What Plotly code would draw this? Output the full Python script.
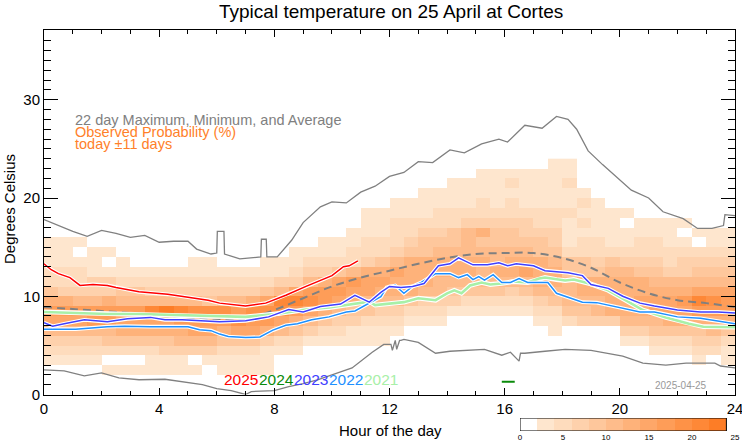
import plotly.graph_objects as go

# ---------------- data ----------------
HOUR_EDGES = [i * 0.5 for i in range(49)]          # half-hour bins
TEMP_EDGES = list(range(25))                       # 1 degree bins
LEVEL_EDGES = list(range(0, 26, 2))                # probability classes (%)

# observed probability class per half-hour column, rows from 0 C upward
# (0 = <2 %, 1 = 2-4 %, ... b = 22-24 %)
prob_levels = [
    "000123578642211100000000", "000123578632211100000000",
    "000123578532210100000000", "000123588533111000000000",
    "001024588633101000000000", "001024678542110000000000",
    "001024678542100000000000", "00112467a532100000000000",
    "00113467b532100000000000", "00113568a532100000000000",
    "001035789532110000000000", "000135789432110000000000",
    "001124689532100000000000", "001124798532100000000000",
    "001124789632100000000000", "001113689742110000000000",
    "000012579a53110000000000", "000012468a73211000000000",
    "000001357985321000000000", "000001246886321100000000",
    "000001235787421100000000", "000001134678522110000000",
    "000001124577632211100000", "000001123567642211100000",
    "000000123566753222110000", "000000012466664322110000",
    "000000012356664432111000", "000000012355665432211000",
    "000000001345665442211100", "000000001245665553211100",
    "000000001245565463221110", "000000001245655443211110",
    "000000001235665443221210", "000000001245765433211110",
    "000000012356664432211110", "000000112456654332211111",
    "000000024555442111211211", "000000034566442212121000",
    "000000035566432211110000", "000000036666542111100000",
    "000001356666532110100000", "000001356766432211000000",
    "000012457765432211000000", "000012467765322111000000",
    "000012467865332101000000", "000123468a75432010000000",
    "000023568975432110000000", "000112468875432110000000",
]

mean_hours = list(range(25))
mean_temp = [8.9, 8.7, 8.5, 8.3, 8.0, 7.8, 7.6, 7.7, 8.6, 9.8, 11.0, 11.9, 12.6,
             13.3, 13.9, 14.3, 14.4, 14.4, 13.9, 12.9, 11.4, 10.3, 9.6, 9.3, 8.9]

max_hours = [0.0, 0.5, 1.0, 1.5, 2.0, 2.5, 3.0, 3.5, 4.0, 4.5, 5.0, 5.3, 5.8, 6.0,
             6.02, 6.25, 6.27, 6.8, 7.2, 7.53, 7.55, 7.72, 7.74, 8.1, 8.6, 9.0,
             9.6, 10.0, 10.5, 11.0, 11.5, 12.0, 12.5, 13.0, 13.5, 14.1, 14.6,
             15.2, 15.8, 16.1, 16.7, 17.3, 17.8, 18.2, 18.5, 18.9, 19.4, 20.0,
             20.4, 21.0, 21.5, 22.2, 22.7, 23.2, 23.6, 23.65, 24.0]
max_temp = [17.8, 17.2, 16.6, 16.1, 16.7, 16.4, 16.0, 16.2, 15.5, 15.6, 15.6,
            14.8, 14.3, 14.4, 16.6, 16.6, 14.3, 13.8, 13.9, 14.0, 15.8, 15.8,
            14.0, 14.0, 15.7, 17.5, 19.1, 19.6, 19.5, 20.6, 21.2, 22.2, 22.6,
            23.7, 23.6, 24.9, 24.6, 25.5, 26.0, 25.7, 27.4, 27.1, 28.3, 28.0,
            27.0, 24.8, 23.4, 21.8, 20.8, 20.0, 18.6, 17.9, 16.9, 16.9, 17.2,
            18.3, 18.2]

min_hours = [0, 0.7, 1.4, 2.0, 2.6, 3.3, 4.2, 5.0, 5.5, 6.0, 6.5, 7.0, 7.2, 8.0,
             8.5, 9.0, 9.5, 10.0, 10.7, 11.4, 11.8, 12.05, 12.1, 12.2, 12.25,
             12.35, 12.4, 12.5, 13.0, 13.6, 14.1, 15.3, 15.9, 16.2, 16.5, 16.55,
             16.7, 17.4, 18.1, 19.0, 20.1, 20.8, 21.6, 22.3, 23.3, 23.5, 24.0]
min_temp = [2.5, 2.4, 1.9, 2.2, 1.7, 1.5, 1.55, 1.2, 1.0, 0.6, 0.4, 0.0, 0.3,
            0.4, 0.8, 1.1, 1.5, 2.0, 2.7, 4.3, 5.1, 5.1, 4.5, 5.5, 4.6, 5.5, 5.5,
            5.6, 5.3, 4.2, 4.4, 4.6, 4.0, 4.3, 3.4, 4.2, 4.2, 4.4, 4.6, 4.5,
            3.9, 3.2, 3.0, 3.2, 3.2, 2.9, 2.7]

hours_2025 = [0, 0.25, 0.5, 0.9, 1.25, 1.7, 2.2, 2.5, 3.3, 4.3, 5.0, 5.7, 6.1,
              7.0, 7.7, 8.4, 9.1, 9.6, 10.0, 10.4, 10.6, 10.9]
temp_2025 = [13.3, 12.7, 12.3, 11.9, 11.1, 11.2, 11.1, 10.9, 10.45, 10.2, 9.9,
             9.6, 9.3, 9.0, 9.3, 10.1, 11.0, 11.6, 12.1, 13.0, 13.1, 13.6]

hours_2024 = [15.9, 16.35]
temp_2024 = [1.3, 1.3]

hours_2023 = [0, 0.3, 0.7, 1.4, 2.2, 2.9, 3.7, 4.2, 4.8, 5.5, 6.1, 7.0, 7.8, 8.5,
              9.0, 9.6, 10.3, 10.8, 11.3, 11.7, 12.0, 12.4, 12.8, 13.2, 13.7,
              14.1, 14.4, 14.9, 15.4, 15.8, 16.1, 16.4, 17.0, 17.4, 18.2, 18.7,
              19.0, 19.6, 20.1, 20.7, 21.2, 22.0, 22.8, 23.4, 24.0]
temp_2023 = [7.3, 6.95, 7.2, 7.6, 7.4, 7.7, 7.85, 7.6, 7.6, 7.5, 7.4, 7.5, 7.9,
             8.65, 8.4, 8.95, 9.2, 10.1, 9.4, 10.4, 11.0, 10.9, 11.0, 11.3, 13.1,
             13.3, 13.9, 13.2, 13.2, 13.4, 13.1, 13.3, 13.1, 12.6, 12.4, 12.1,
             11.2, 10.8, 10.0, 9.3, 9.0, 8.6, 8.4, 8.4, 8.3]

hours_2022 = [0, 1.1, 2.2, 2.8, 3.7, 5.0, 5.4, 5.8, 6.1, 6.4, 7.0, 7.5, 7.95,
              8.4, 8.8, 9.3, 9.9, 10.5, 10.8, 11.3, 11.7, 11.9, 12.2, 12.5, 12.8,
              13.1, 13.6, 14.1, 14.4, 14.7, 14.9, 15.1, 15.3, 15.6, 15.9, 16.2,
              16.5, 16.8, 17.5, 17.8, 18.1, 18.7, 19.2, 20.1, 20.7, 21.2, 22.0,
              22.8, 24.0]
temp_2022 = [6.65, 6.65, 6.9, 6.95, 6.9, 6.9, 6.6, 6.5, 6.15, 5.9, 5.8, 5.85,
             6.55, 7.05, 7.2, 7.6, 7.9, 8.4, 8.5, 9.3, 9.95, 10.9, 11.1, 10.3,
             11.0, 11.4, 12.3, 12.3, 11.9, 12.2, 11.7, 12.0, 11.65, 12.2, 11.4,
             11.4, 11.8, 11.4, 11.4, 10.3, 10.0, 9.4, 9.35, 8.75, 8.4, 8.4, 7.9,
             7.75, 7.2]

hours_2021 = [0, 1.1, 2.2, 3.3, 4.5, 5.7, 7.0, 8.2, 9.1, 9.9, 10.7, 11.3, 11.5,
              11.9, 12.5, 13.0, 13.6, 14.0, 14.25, 14.5, 14.8, 15.2, 15.5, 15.9,
              16.3, 16.8, 17.2, 17.4, 17.8, 18.1, 18.4, 19.0, 19.6, 20.1, 20.8,
              21.6, 22.4, 22.9, 24.0]
temp_2021 = [8.4, 8.3, 8.2, 8.2, 8.1, 7.95, 7.9, 8.25, 8.65, 8.85, 9.2, 9.45,
             9.1, 9.2, 9.4, 9.8, 9.6, 10.3, 10.6, 10.3, 11.1, 11.4, 11.2, 11.3,
             11.5, 11.4, 11.8, 11.9, 11.7, 11.6, 11.7, 11.25, 10.6, 9.8, 8.6,
             7.85, 7.2, 6.9, 6.85]

year_labels = ["2025", "2024", "2023", "2022", "2021"]
colorbar_ticks = [0, 5, 10, 15, 20, 25]
x_ticks = [0, 4, 8, 12, 16, 20, 24]
y_ticks = [0, 10, 20, 30]

# ---------------- style ----------------
W, H = 742, 445
ML, MR, MT, MB = 44, 7, 30, 10
PLOT_BOTTOM = 394.5
FONT = "Liberation Sans, Arial, sans-serif"
LEVEL_COLORS = ["#ffffff", "#fee6ce", "#fedcbd", "#fed1ac", "#fec79c", "#febc8b",
                "#feb27a", "#fea769", "#fe9d58", "#fe9247", "#fe8837", "#fd7d26"]
YEAR_COLORS = ["#ff0000", "#0a8a0a", "#4040ff", "#1e90ff", "#a8f0a8"]
GRAY = "#808080"


def px(x):
    return (x - ML) / (W - ML - MR)


def py(y):
    return (H - MB - y) / (H - MT - MB)


main_bottom = py(PLOT_BOTTOM)

# stepped colorscale over 0..24 %
nlev = len(LEVEL_COLORS)
colorscale = []
for k, col in enumerate(LEVEL_COLORS):
    colorscale.append([k / nlev, col])
    colorscale.append([(k + 1) / nlev, col])

nrows = len(TEMP_EDGES) - 1
z = [[None] * (len(HOUR_EDGES) - 1) for _ in range(nrows)]
for c, s in enumerate(prob_levels):
    s = (s + "0" * nrows)[:nrows]
    for r, ch in enumerate(s):
        k = int(ch, 16)
        if k > 0:
            z[r][c] = (LEVEL_EDGES[k] + LEVEL_EDGES[k + 1]) / 2

fig = go.Figure()
fig.add_trace(go.Heatmap(x=HOUR_EDGES, y=TEMP_EDGES, z=z, zmin=0, zmax=24,
                         colorscale=colorscale, showscale=False,
                         hoverongaps=False))

fig.add_trace(go.Scatter(x=max_hours, y=max_temp, mode="lines",
                         line=dict(color=GRAY, width=1.3)))
fig.add_trace(go.Scatter(x=min_hours, y=min_temp, mode="lines",
                         line=dict(color=GRAY, width=1.3)))
fig.add_trace(go.Scatter(x=mean_hours, y=mean_temp, mode="lines",
                         line=dict(color=GRAY, width=2, dash="8px,5px",
                                   shape="spline", smoothing=1)))

year_series = [(hours_2021, temp_2021, YEAR_COLORS[4], 2.6),
               (hours_2022, temp_2022, YEAR_COLORS[3], 1.5),
               (hours_2023, temp_2023, YEAR_COLORS[2], 1.5),
               (hours_2024, temp_2024, YEAR_COLORS[1], 1.8),
               (hours_2025, temp_2025, YEAR_COLORS[0], 1.5)]
for hx, ty, colr, wd in year_series:
    fig.add_trace(go.Scatter(x=hx, y=ty, mode="lines",
                             line=dict(color="white", width=wd + 2.2)))
    fig.add_trace(go.Scatter(x=hx, y=ty, mode="lines",
                             line=dict(color=colr, width=wd)))

# colour key (inset axes)
key_vals = [(LEVEL_EDGES[k] + LEVEL_EDGES[k + 1]) / 2 for k in range(nlev)]
fig.add_trace(go.Heatmap(x=LEVEL_EDGES, y=[0, 1], z=[key_vals], zmin=0, zmax=24,
                         colorscale=colorscale, showscale=False,
                         xaxis="x2", yaxis="y2"))
fig.add_shape(type="rect", xref="x2", yref="y2", x0=0, x1=24, y0=0, y1=1,
              line=dict(color="black", width=1))

axis_common = dict(showgrid=False, zeroline=False, showline=True,
                   linecolor="black", linewidth=1, mirror="allticks",
                   ticks="inside", tickcolor="black", automargin=False,
                   ticklabeloverflow="allow",
                   tickfont=dict(family=FONT, size=15, color="black"))
fig.update_layout(
    width=W, height=H,
    margin=dict(l=ML, r=MR, t=MT, b=MB, pad=0, autoexpand=False),
    paper_bgcolor="white", plot_bgcolor="white",
    showlegend=False,
    font=dict(family=FONT, color="black"),
    xaxis=dict(range=[0, 24], domain=[0, 1], tickvals=x_ticks, ticklen=7,
               minor=dict(dtick=1, ticklen=3.5, ticks="inside", tickcolor="black"),
               anchor="y", **axis_common),
    yaxis=dict(range=[0, 37.1], domain=[main_bottom, 1], tickvals=y_ticks,
               ticklen=14,
               minor=dict(dtick=1, ticklen=7, ticks="inside", tickcolor="black"),
               anchor="x", **axis_common),
    xaxis2=dict(domain=[px(520), 1.0], range=[0, 25], anchor="y2",
                tickvals=colorbar_ticks, ticks="", showline=False,
                showgrid=False, zeroline=False, automargin=False,
                ticklabeloverflow="allow",
                tickfont=dict(family=FONT, size=8, color="black")),
    yaxis2=dict(domain=[py(431), py(418)], range=[0, 1], anchor="x2",
                showticklabels=False, ticks="", showline=False,
                showgrid=False, zeroline=False, automargin=False),
)

ann = []
ann.append(dict(text="Typical temperature on 25 April at Cortes", x=px(390.5),
                y=py(12), font=dict(size=19)))
ann.append(dict(text="Hour of the day", x=px(390), y=py(430), font=dict(size=15)))
ann.append(dict(text="Degrees Celsius", x=px(9), y=py(209), textangle=-90,
                font=dict(size=15)))
ann.append(dict(text="22 day Maximum, Minimum, and Average", x=px(73), y=py(119.5),
                xanchor="left", font=dict(size=14.5, color=GRAY)))
ann.append(dict(text="Observed Probability (%)", x=px(73), y=py(131.7),
                xanchor="left", font=dict(size=14.5, color="#ff7f2a")))
ann.append(dict(text="today ±11 days", x=px(73), y=py(143.9),
                xanchor="left", font=dict(size=14.5, color="#ff7f2a")))
label_x = [222, 257, 292, 327, 362]
for lab, lx, colr in zip(year_labels, label_x, YEAR_COLORS):
    ann.append(dict(text=lab, x=px(lx), y=py(379), xanchor="left",
                    font=dict(size=15.5, color=colr)))
ann.append(dict(text="2025-04-25", x=px(709), y=py(385), xanchor="right",
                font=dict(size=10, color="#999999")))
for a in ann:
    a.setdefault("xanchor", "center")
    a.update(xref="paper", yref="paper", yanchor="middle", showarrow=False)
    a["font"].setdefault("family", FONT)
fig.update_layout(annotations=ann)

# remove the browser's default page margin so the figure sits at (0, 0)
fig.write_html("out.html",
               config={"displayModeBar": False},
               post_script="document.body.style.margin='0';"
                           "document.body.style.padding='0';")
